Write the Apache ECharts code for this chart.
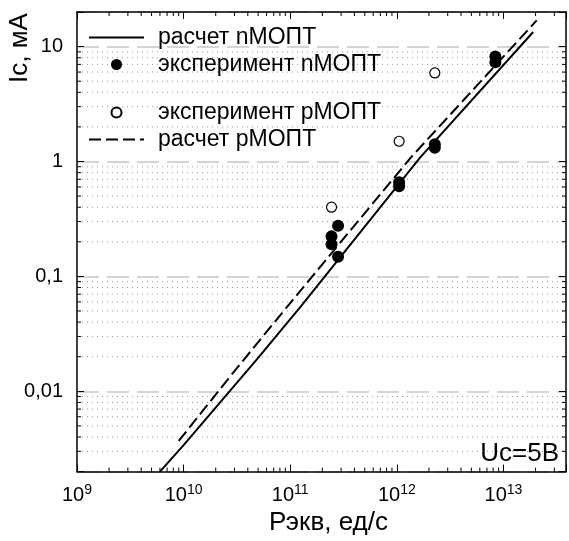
<!DOCTYPE html>
<html>
<head>
<meta charset="utf-8">
<script src="https://cdn.jsdelivr.net/npm/echarts@6/dist/echarts.min.js"></script>
<style>
html, body { margin: 0; padding: 0; background: #fff; }
#chart { width: 569px; height: 541px; }
</style>
</head>
<body>
<div id="chart"></div>
<script>
const FONT = '"Liberation Sans", Arial, sans-serif';

// расчет nМОПТ (сплошная)
const calcNX = [6e9, 1e10, 5e10, 1.28e11, 1.65e12, 1.9e13];
const calcNY = [0.002, 0.0034, 0.0195, 0.056, 1.08, 13.4];
// расчет pМОПТ (штриховая)
const calcPX = [9e9, 3e10, 9.6e10, 1.35e12, 2.05e13];
const calcPY = [0.0037, 0.015, 0.056, 1.08, 16.9];
// эксперимент nМОПТ
const expNX = [2.44e11, 2.44e11, 2.81e11, 2.81e11, 1.05e12, 1.05e12, 2.27e12, 2.27e12, 8.4e12, 8.4e12];
const expNY = [0.223, 0.19, 0.276, 0.148, 0.66, 0.61, 1.41, 1.32, 8.2, 7.3];
// эксперимент pМОПТ
const expPX = [2.44e11, 1.05e12, 2.27e12];
const expPY = [0.40, 1.5, 5.9];

const xRange = [1e9, 3.86e13];
const yRange = [0.002, 20];
const xDecades = [1e9, 1e10, 1e11, 1e12, 1e13];
const yDecades = [0.001, 0.01, 0.1, 1, 10];

// промежуточные деления 2..9 внутри декады
const minorX = [];
xDecades.forEach(d => {
    for (let k = 2; k <= 9; k++) if (d * k < xRange[1]) minorX.push(d * k);
});
const minorY = [];
yDecades.forEach(d => {
    for (let k = 2; k <= 9; k++) {
        const v = +(d * k).toPrecision(3);
        if (v > yRange[0] && v < yRange[1]) minorY.push(v);
    }
});

const zip = (xs, ys) => xs.map((x, i) => [x, ys[i]]);
const isDecade = v => Math.abs(Math.log10(v) - Math.round(Math.log10(v))) < 1e-6;

const chart = echarts.init(document.getElementById('chart'));

const tickStyle = { color: '#000', width: 1 };
const axisLineStyle = { color: '#000', width: 1.5 };
const legendText = { fontFamily: FONT, fontSize: 23, color: '#000', lineHeight: 22, padding: [0, 0, 0, 9] };

chart.setOption({
    animation: false,
    textStyle: { fontFamily: FONT },
    grid: { left: 77, right: -1, top: 12, bottom: 62, containLabel: false },
    xAxis: [{
        type: 'log', logBase: 10, min: xRange[0], max: xRange[1], position: 'bottom',
        axisLine: { onZero: false, lineStyle: axisLineStyle },
        axisTick: { inside: true, length: 7, lineStyle: tickStyle },
        splitLine: { show: false },
        axisLabel: {
            margin: 12,
            formatter: v => isDecade(v) ? '{b|10}{s|' + Math.round(Math.log10(v)) + '}' : '',
            rich: {
                b: { fontSize: 20, fontFamily: FONT, color: '#000' },
                s: { fontSize: 14, fontFamily: FONT, color: '#000', padding: [0, 0, 9, 0] }
            }
        },
        name: 'Рэкв, ед/с', nameLocation: 'middle', nameGap: 30,
        nameTextStyle: { fontSize: 26, fontFamily: FONT, color: '#000', padding: [0, 0, 0, 14] }
    }, {
        type: 'log', logBase: 10, min: xRange[0], max: xRange[1], position: 'top',
        axisLine: { onZero: false, lineStyle: axisLineStyle },
        axisTick: { inside: true, length: 7, lineStyle: tickStyle },
        splitLine: { show: false },
        axisLabel: { show: false }
    }],
    yAxis: [{
        type: 'log', logBase: 10, min: yRange[0], max: yRange[1], position: 'left',
        axisLine: { onZero: false, lineStyle: axisLineStyle },
        axisTick: { inside: true, length: 7, lineStyle: tickStyle },
        splitLine: { show: true, lineStyle: { color: '#c8c8c8', width: 1.5, type: [22, 8] } },
        axisLabel: {
            margin: 14, fontSize: 20, fontFamily: FONT, color: '#000',
            formatter: v => isDecade(v) ? String(+v.toPrecision(3)).replace('.', ',') : ''
        }
    }, {
        type: 'log', logBase: 10, min: yRange[0], max: yRange[1], position: 'right',
        axisLine: { onZero: false, lineStyle: axisLineStyle },
        axisTick: { inside: true, length: 7, lineStyle: tickStyle },
        splitLine: { show: false },
        axisLabel: { show: false }
    }],
    legend: [{
        data: [
            { name: 'расчет nМОПТ', itemStyle: { opacity: 0 } },
            { name: 'эксперимент nМОПТ' }
        ],
        orient: 'vertical', left: 88, top: 26, padding: 0,
        itemWidth: 55, itemHeight: 11, itemGap: 4, selectedMode: false,
        textStyle: legendText
    }, {
        data: [
            { name: 'эксперимент pМОПТ' },
            { name: 'расчет pМОПТ', itemStyle: { opacity: 0 } }
        ],
        orient: 'vertical', left: 88, top: 101, padding: 0,
        itemWidth: 55, itemHeight: 10, itemGap: 4, selectedMode: false,
        textStyle: legendText
    }],
    graphic: [{
        type: 'text', x: 20, y: 48, rotation: Math.PI / 2,
        style: { text: 'Ic, мА', fontSize: 26, fontFamily: FONT, fill: '#000', align: 'center', verticalAlign: 'middle' }
    }, {
        type: 'text', x: 559, y: 454,
        style: { text: 'Uc=5В', fontSize: 26, fontFamily: FONT, fill: '#000', align: 'right', verticalAlign: 'middle' }
    }],
    series: [{
        // мелкие деления и точечная сетка по y
        type: 'custom', silent: true, z: 1, xAxisIndex: 0, yAxisIndex: 0,
        data: minorY.map(v => [xRange[0], v]),
        renderItem: (params, api) => {
            const l = api.coord([xRange[0], api.value(1)]);
            const r = api.coord([xRange[1], api.value(1)]);
            return {
                type: 'group', children: [
                    { type: 'line', shape: { x1: l[0], y1: l[1], x2: r[0], y2: r[1] },
                      style: { stroke: '#999', lineWidth: 1, lineDash: [1, 4] } },
                    { type: 'line', shape: { x1: l[0], y1: l[1], x2: l[0] + 4, y2: l[1] }, style: { stroke: '#000', lineWidth: 1 } },
                    { type: 'line', shape: { x1: r[0], y1: r[1], x2: r[0] - 4, y2: r[1] }, style: { stroke: '#000', lineWidth: 1 } }
                ]
            };
        }
    }, {
        // мелкие деления по x
        type: 'custom', silent: true, z: 1, xAxisIndex: 0, yAxisIndex: 0,
        data: minorX.map(v => [v, yRange[0]]),
        renderItem: (params, api) => {
            const b = api.coord([api.value(0), yRange[0]]);
            const t = api.coord([api.value(0), yRange[1]]);
            return {
                type: 'group', children: [
                    { type: 'line', shape: { x1: b[0], y1: b[1], x2: b[0], y2: b[1] - 4 }, style: { stroke: '#000', lineWidth: 1 } },
                    { type: 'line', shape: { x1: t[0], y1: t[1], x2: t[0], y2: t[1] + 4 }, style: { stroke: '#000', lineWidth: 1 } }
                ]
            };
        }
    }, {
        name: 'расчет nМОПТ', type: 'line', z: 3,
        data: zip(calcNX, calcNY), symbol: 'none',
        lineStyle: { color: '#000', width: 2 }, itemStyle: { color: '#000' }
    }, {
        name: 'расчет pМОПТ', type: 'line', z: 3,
        data: zip(calcPX, calcPY), symbol: 'none',
        lineStyle: { color: '#000', width: 2, type: [12, 5] }, itemStyle: { color: '#000' }
    }, {
        name: 'эксперимент nМОПТ', type: 'scatter', z: 4,
        data: zip(expNX, expNY), symbolSize: 12,
        itemStyle: { color: '#000', opacity: 1 }
    }, {
        name: 'эксперимент pМОПТ', type: 'scatter', z: 4,
        data: zip(expPX, expPY), symbolSize: 10,
        itemStyle: { color: '#fff', borderColor: '#000', borderWidth: 1.2, opacity: 1 }
    }]
});
</script>
</body>
</html>
